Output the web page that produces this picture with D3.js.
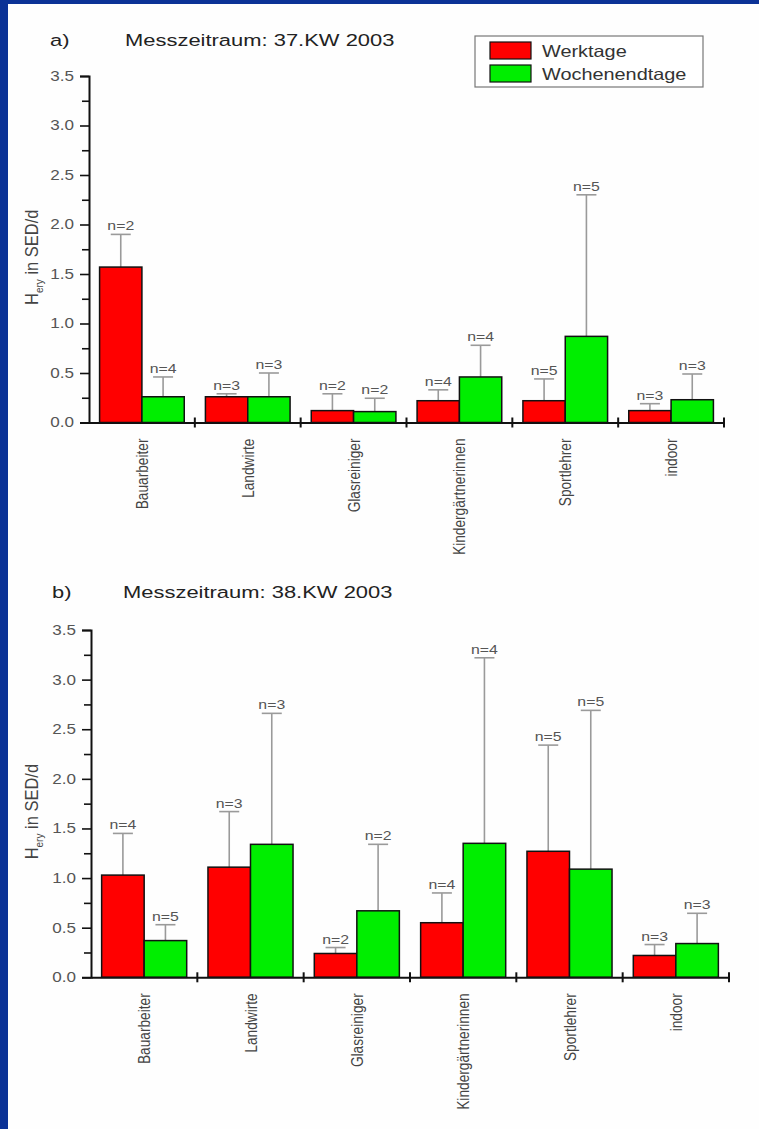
<!DOCTYPE html>
<html>
<head>
<meta charset="utf-8">
<script src="https://cdn.jsdelivr.net/npm/d3@7"></script>
<style>
  html, body { margin: 0; padding: 0; background: #ffffff; }
  svg { display: block; }
</style>
</head>
<body>
<svg id="chart" width="759" height="1129"></svg>
<script>
const categories = ["Bauarbeiter", "Landwirte", "Glasreiniger", "Kindergärtnerinnen", "Sportlehrer", "indoor"];
const seriesNames = ["Werktage", "Wochenendtage"];
const seriesColors = ["#ff0000", "#00ee00"];
const yTicks = [0, 0.5, 1.0, 1.5, 2.0, 2.5, 3.0, 3.5];
const yMinorTicks = [0.25, 0.75, 1.25, 1.75, 2.25, 2.75, 3.25];

// Panel a) 37.KW 2003
const aWerktage      = [1.57, 0.26, 0.12, 0.22, 0.22, 0.12];
const aWerktageErr   = [1.90, 0.29, 0.29, 0.33, 0.44, 0.19];
const aWerktageN     = [2, 3, 2, 4, 5, 3];
const aWochenend     = [0.26, 0.26, 0.11, 0.46, 0.87, 0.23];
const aWochenendErr  = [0.46, 0.50, 0.245, 0.78, 2.30, 0.49];
const aWochenendN    = [4, 3, 2, 4, 5, 3];

// Panel b) 38.KW 2003
const bWerktage      = [1.03, 1.11, 0.24, 0.55, 1.27, 0.22];
const bWerktageErr   = [1.45, 1.67, 0.30, 0.85, 2.34, 0.33];
const bWerktageN     = [4, 3, 2, 4, 5, 3];
const bWochenend     = [0.37, 1.34, 0.67, 1.35, 1.09, 0.34];
const bWochenendErr  = [0.53, 2.66, 1.34, 3.22, 2.69, 0.645];
const bWochenendN    = [5, 3, 2, 4, 5, 3];

const svg = d3.select("#chart");
const W = 759, H = 1129;

// blue frame (left and top)
svg.append("rect").attr("x", 0).attr("y", 0).attr("width", W).attr("height", H).attr("fill", "#0b3296");
svg.append("rect").attr("x", 8).attr("y", 4).attr("width", W - 8).attr("height", H - 4).attr("fill", "#fefefe");

const FONT = "Arial, 'Liberation Sans', Helvetica, sans-serif";

// the original picture is horizontally stretched: glyphs are wider than normal
function stretchedText(parent, x, y, txt, size, fill, anchor, sx) {
  return parent.append("text")
    .attr("transform", `translate(${x},${y}) scale(${sx},1)`)
    .attr("text-anchor", anchor)
    .attr("font-family", FONT).attr("font-size", size).attr("fill", fill)
    .text(txt);
}

function panel(opts) {
  const { letter, title, x0, x1, yTop, yZero, letterX, titleX, titleY, vals } = opts;
  const g = svg.append("g");

  const y = d3.scaleLinear().domain([0, 3.5]).range([yZero, yTop]);
  const x = d3.scaleBand().domain(categories).range([x0, x1]).paddingInner(0).paddingOuter(0);
  const bw = x.bandwidth();
  const xs = d3.scaleBand().domain(seriesNames).range([bw * 0.1, bw * 0.9]).padding(0);

  // titles
  stretchedText(g, letterX, titleY, letter, 16.5, "#222", "start", 1.33);
  stretchedText(g, titleX, titleY, title, 16.5, "#222", "start", 1.33);

  // data rows
  const rows = [];
  categories.forEach((c, i) => {
    vals.forEach((s, si) => {
      rows.push({ cat: c, ser: seriesNames[si], si, v: s.v[i], e: s.e[i], n: s.n[i] });
    });
  });

  // error bars (behind bars)
  const eb = g.append("g").attr("stroke", "#9a9a9a").attr("stroke-width", 1.6);
  rows.forEach(d => {
    const cx = x(d.cat) + xs(d.ser) + xs.bandwidth() / 2;
    eb.append("line").attr("x1", cx).attr("x2", cx).attr("y1", y(d.v)).attr("y2", y(d.e));
    eb.append("line").attr("x1", cx - 10).attr("x2", cx + 10).attr("y1", y(d.e)).attr("y2", y(d.e));
    stretchedText(g, cx, y(d.e) - 4, "n=" + d.n, 12, "#555", "middle", 1.32);
  });

  // bars
  g.append("g").selectAll("rect").data(rows).join("rect")
    .attr("x", d => x(d.cat) + xs(d.ser))
    .attr("y", d => y(d.v))
    .attr("width", xs.bandwidth())
    .attr("height", d => y(0) - y(d.v))
    .attr("fill", d => seriesColors[d.si])
    .attr("stroke", "#111").attr("stroke-width", 1.5);

  // y axis
  const yAxis = d3.axisLeft(y).tickValues(yTicks).tickFormat(d3.format(".1f")).tickSize(9).tickPadding(5);
  const ya = g.append("g").attr("transform", `translate(${x0},0)`).call(yAxis);
  ya.select(".domain").attr("stroke", "#111").attr("stroke-width", 2);
  ya.selectAll(".tick line").attr("stroke", "#111").attr("stroke-width", 1.6);
  ya.selectAll(".tick text")
    .attr("x", 0)
    .attr("transform", "translate(-15,0) scale(1.22,1)")
    .attr("font-family", FONT).attr("font-size", 14).attr("fill", "#555");
  const yMinor = d3.axisLeft(y).tickValues(yMinorTicks).tickFormat("").tickSize(7);
  const ym = g.append("g").attr("transform", `translate(${x0},0)`).call(yMinor);
  ym.select(".domain").remove();
  ym.selectAll(".tick line").attr("stroke", "#111").attr("stroke-width", 1.6);

  // x axis
  const xAxis = d3.axisBottom(x).tickSize(0).tickFormat("");
  const xa = g.append("g").attr("transform", `translate(0,${yZero})`).call(xAxis);
  xa.select(".domain").attr("stroke", "#111").attr("stroke-width", 2);
  xa.selectAll(".tick").remove();
  // boundary ticks
  categories.forEach(c => {
    const bx = x(c) + bw;
    g.append("line").attr("x1", bx).attr("x2", bx).attr("y1", yZero - 5).attr("y2", yZero + 5)
      .attr("stroke", "#111").attr("stroke-width", 2);
  });
  // category labels (rotated, glyphs widened in page-x)
  categories.forEach(c => {
    const cx = x(c) + bw / 2;
    g.append("text")
      .attr("transform", `translate(${cx + 6},${yZero + 16}) scale(1.25,1) rotate(-90)`)
      .attr("text-anchor", "end")
      .attr("font-family", FONT).attr("font-size", 13.7).attr("fill", "#444")
      .text(c);
  });

  // y label
  const lbl = g.append("text")
    .attr("transform", `translate(38,${(yTop + yZero) / 2 + 8}) scale(1.15,1) rotate(-90)`)
    .attr("text-anchor", "middle")
    .attr("font-family", FONT).attr("font-size", 16.5).attr("fill", "#444");
  lbl.append("tspan").text("H");
  lbl.append("tspan").attr("font-size", 10).attr("dy", 4).text("ery");
  lbl.append("tspan").attr("dy", -4).text(" in SED/d");
}

panel({
  letter: "a)", title: "Messzeitraum: 37.KW 2003",
  x0: 89, x1: 724, yTop: 76, yZero: 422.5,
  letterX: 50, titleX: 125, titleY: 46,
  vals: [
    { v: aWerktage, e: aWerktageErr, n: aWerktageN },
    { v: aWochenend, e: aWochenendErr, n: aWochenendN }
  ]
});

panel({
  letter: "b)", title: "Messzeitraum: 38.KW 2003",
  x0: 91, x1: 729, yTop: 630, yZero: 977.3,
  letterX: 52, titleX: 123, titleY: 598,
  vals: [
    { v: bWerktage, e: bWerktageErr, n: bWerktageN },
    { v: bWochenend, e: bWochenendErr, n: bWochenendN }
  ]
});

// legend
const lg = svg.append("g");
lg.append("rect").attr("x", 475).attr("y", 36).attr("width", 228).attr("height", 51)
  .attr("fill", "#fff").attr("stroke", "#777").attr("stroke-width", 1.2);
seriesNames.forEach((s, i) => {
  lg.append("rect").attr("x", 490).attr("y", 42 + i * 23).attr("width", 41).attr("height", 17)
    .attr("fill", seriesColors[i]).attr("stroke", "#111").attr("stroke-width", 1.2);
  stretchedText(lg, 542, 57 + i * 23, s, 16.3, "#333", "start", 1.22);
});
</script>
</body>
</html>
